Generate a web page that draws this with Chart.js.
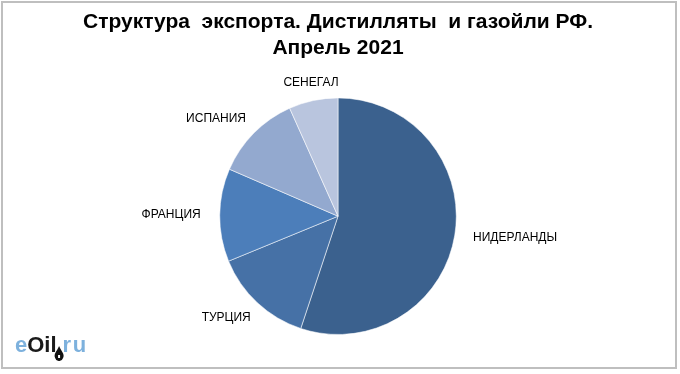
<!DOCTYPE html>
<html>
<head>
<meta charset="utf-8">
<script src="https://cdn.jsdelivr.net/npm/chart.js@4/dist/chart.umd.min.js"></script>
<style>
html,body{margin:0;padding:0;background:#fff;}
#wrap{width:680px;height:374px;position:relative;}
</style>
</head>
<body>
<div id="wrap"><canvas id="c" width="680" height="374"></canvas></div>
<script>
const categories = ["НИДЕРЛАНДЫ", "ТУРЦИЯ", "ФРАНЦИЯ", "ИСПАНИЯ", "СЕНЕГАЛ"];
const shares = [55.1, 13.7, 12.7, 11.8, 6.7];
const sliceColors = ["#3B618E", "#4671A6", "#4C7EBA", "#93A9CF", "#B9C5DE"];
const titleLines = ["Структура  экспорта. Дистилляты  и газойли РФ.", "Апрель 2021"];

function side(t) {
  const a = Math.min(1, Math.max(0, (Math.abs(t) - 0.25) / 0.45));
  return a * Math.sign(t);
}

const labelPlugin = {
  id: 'outLabels',
  afterDatasetsDraw(chart) {
    const ctx = chart.ctx;
    const meta = chart.getDatasetMeta(0);
    ctx.save();
    ctx.font = '12px "Liberation Sans", Arial, sans-serif';
    ctx.fillStyle = '#000';
    ctx.textBaseline = 'middle';
    ctx.textAlign = 'center';
    meta.data.forEach((arc, i) => {
      const p = arc.getProps(['x','y','startAngle','endAngle','outerRadius'], true);
      const mid = (p.startAngle + p.endAngle) / 2;
      const dx = Math.cos(mid), dy = Math.sin(mid);
      const r = p.outerRadius + 11 + 8 * Math.max(0, Math.abs(dx) - 0.8) / 0.2;
      const ax = p.x + dx * r, ay = p.y + dy * r;
      const w = ctx.measureText(categories[i]).width;
      const h = 14;
      ctx.fillText(categories[i], ax + side(dx) * w / 2, ay + side(dy) * h / 2);
    });
    ctx.restore();
  }
};

const decoPlugin = {
  id: 'deco',
  afterDraw(chart) {
    const ctx = chart.ctx;
    ctx.save();
    ctx.strokeStyle = '#BFBFBF';
    ctx.lineWidth = 2;
    ctx.strokeRect(2, 2, 674, 366);
    ctx.textBaseline = 'alphabetic';
    ctx.textAlign = 'left';
    ctx.font = 'bold 22px "Liberation Sans", Arial, sans-serif';
    let x = 15; const y = 352;
    ctx.fillStyle = '#7DB1DD';
    ctx.fillText('e', x, y); x += ctx.measureText('e').width;
    ctx.fillStyle = '#1A1A1A';
    ctx.fillText('Oil', x, y); x += ctx.measureText('Oil').width;
    const dx0 = x + 2.5, dy0 = 346;
    ctx.fillStyle = '#111';
    ctx.beginPath();
    ctx.moveTo(dx0, dy0);
    ctx.bezierCurveTo(dx0 + 2, dy0 + 5, dx0 + 6, dy0 + 8, dx0 + 4, dy0 + 12);
    ctx.arc(dx0, dy0 + 11, 4, 0.3, Math.PI - 0.3);
    ctx.bezierCurveTo(dx0 - 6, dy0 + 8, dx0 - 2, dy0 + 5, dx0, dy0);
    ctx.fill();
    ctx.fillStyle = '#fff';
    ctx.fillRect(dx0 - 1, dy0 + 9, 2, 3);
    x += 6;
    ctx.fillStyle = '#7DB1DD';
    ctx.fillText('r', x, y); x += ctx.measureText('r').width + 1.5;
    ctx.fillText('u', x, y);
    ctx.restore();
  }
};

new Chart(document.getElementById('c'), {
  type: 'pie',
  data: {
    labels: categories,
    datasets: [{
      data: shares,
      backgroundColor: sliceColors,
      borderColor: 'rgba(255,255,255,0.55)',
      borderWidth: 1
    }]
  },
  options: {
    responsive: false,
    animation: false,
    devicePixelRatio: 1,
    layout: { padding: { left: 0, right: 4, top: 0, bottom: 39 } },
    plugins: {
      legend: { display: false },
      tooltip: { enabled: false },
      title: {
        display: true,
        text: titleLines,
        color: '#000',
        font: { family: '"Liberation Sans Narrow", "Arial Narrow", "Liberation Sans", sans-serif', size: 21, weight: 'bold', lineHeight: 1.2 },
        padding: { top: 10, bottom: 37 }
      }
    }
  },
  plugins: [labelPlugin, decoPlugin]
});
</script>
</body>
</html>
